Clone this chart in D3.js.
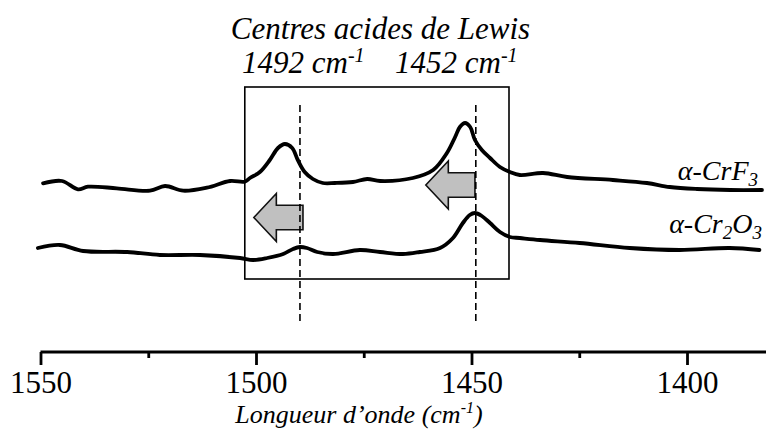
<!DOCTYPE html>
<html>
<head>
<meta charset="utf-8">
<script src="https://cdn.jsdelivr.net/npm/d3@7"></script>
</head>
<body style="margin:0">
<svg id="chart" width="766" height="430"></svg>
<script>
// ---------- DATA ----------
const wnCrF3 = [1549.4,1545.0,1541.3,1539.0,1532.3,1524.6,1521.1,1516.9,1511.4,1506.0,1502.6,1501.4,1499.1,1496.8,1494.9,1493.3,1491.6,1490.3,1488.7,1486.8,1484.5,1481.7,1477.5,1474.2,1471.2,1463.6,1458.9,1455.7,1453.8,1452.7,1451.5,1450.3,1449.2,1447.6,1445.7,1443.4,1441.1,1438.8,1433.4,1427.8,1417.2,1409.3,1404.0,1397.7,1390.0,1382.6];
const absCrF3 = [116.7,119,110.7,113.3,111.7,109.3,114,109.3,112.3,119,118.3,122,128,140,152,156,152,140,128,121,117,117,118,121,119,122,130,147,163,173,177,173,160,150,142,133,128,125,127,123,120,117,113,111,110,110];

const wnCr2O3 = [1550.6,1545.5,1540.1,1529.9,1522.3,1513.0,1503.7,1500.7,1497.4,1493.7,1491.4,1489.8,1488.2,1485.8,1482.1,1475.9,1471.2,1465.9,1462.0,1457.3,1454.3,1452.0,1450.4,1449.2,1447.6,1445.7,1443.4,1441.1,1438.8,1434.1,1424.9,1413.3,1401.7,1390.1,1383.2];
const absCr2O3 = [52,55,49,48,45,45,42,40,42,46,51,53,52,48,46,50,48,46,48,52,62,77,85,87,84,77,68,63,62,60,57,52,50,52,50];

const majorTicks = [1550, 1500, 1450, 1400];
const minorTicks = [1525, 1475, 1425];

const lewisBands = [1489.8, 1449.0];
const lewisLabels = ["1492", "1452"];
const boxWn = [1502.6, 1441.3];
const boxAbs = [213, 21];
const arrowTipWn = [1500.5, 1460.6];
const arrowTailWn = [1489.1, 1449.2];
const arrowAbs = [82.5, 115];

// ---------- SCALES ----------
const svg = d3.select("#chart");
const x = d3.scaleLinear().domain([1550, 1400]).range([40.5, 687]);
const y = d3.scaleLinear().domain([0, 200]).range([300, 100]);
const xEnd = x.invert(766);
const FONT = "'Times New Roman'";

// ---------- TITLE (first texts) ----------
svg.append("text").attr("x", 380.5).attr("y", 39).attr("text-anchor", "middle")
  .attr("font-family", FONT).attr("font-size", 31).attr("font-style", "italic").text("Centres acides de Lewis");
[242, 395].forEach((px, i) => {
  const t = svg.append("text").attr("x", px).attr("y", 73)
    .attr("font-family", FONT).attr("font-size", 31).attr("font-style", "italic");
  t.append("tspan").text(lewisLabels[i] + " cm");
  t.append("tspan").attr("dy", -11).attr("font-size", 20).text("-1");
});

// ---------- BOX ----------
svg.append("rect")
  .attr("x", x(boxWn[0])).attr("y", y(boxAbs[0]))
  .attr("width", x(boxWn[1]) - x(boxWn[0]))
  .attr("height", y(boxAbs[1]) - y(boxAbs[0]))
  .attr("fill", "none").attr("stroke", "#000").attr("stroke-width", 1.6);

// ---------- CURVES ----------
const line = d3.line().x(d => x(d[0])).y(d => y(d[1])).curve(d3.curveCatmullRom.alpha(0.5));
[[wnCrF3, absCrF3], [wnCr2O3, absCr2O3]].forEach(([w, a]) => {
  svg.append("path")
    .datum(w.map((v, i) => [v, a[i]]))
    .attr("d", line)
    .attr("fill", "none").attr("stroke", "#000")
    .attr("stroke-width", 3.8).attr("stroke-linejoin", "round").attr("stroke-linecap", "round");
});

// ---------- ARROWS ----------
arrowTipWn.forEach((tw, i) => {
  const tx = x(tw), ex = x(arrowTailWn[i]), cy = y(arrowAbs[i]);
  const hl = 22.5, hh = 24, bh = 12.3;
  const pts = [[tx, cy], [tx + hl, cy - hh], [tx + hl, cy - bh], [ex, cy - bh], [ex, cy + bh], [tx + hl, cy + bh], [tx + hl, cy + hh]];
  svg.append("path")
    .attr("d", "M" + pts.map(p => p.join(",")).join("L") + "Z")
    .attr("fill", "#c0c0c0").attr("stroke", "#111").attr("stroke-width", 1.6).attr("stroke-linejoin", "miter");
});

// ---------- DASHED LINES ----------
lewisBands.forEach(b => {
  svg.append("line")
    .attr("x1", x(b)).attr("x2", x(b)).attr("y1", 105).attr("y2", 322)
    .attr("stroke", "#000").attr("stroke-width", 1.6).attr("stroke-dasharray", "7,4");
});

// ---------- AXIS ----------
const axisY = 352;
const axisG = svg.append("g").attr("transform", `translate(0,${axisY})`);
axisG.append("line").attr("x1", x(1550)).attr("x2", x(xEnd)).attr("y1", 0).attr("y2", 0)
  .attr("stroke", "#000").attr("stroke-width", 2.8);
const major = d3.axisBottom(x).tickValues(majorTicks).tickSize(13).tickSizeOuter(0).tickFormat(d3.format("d"));
const gMaj = axisG.append("g").call(major);
gMaj.attr("font-family", FONT).attr("font-size", 31);
gMaj.select(".domain").remove();
gMaj.selectAll(".tick line").attr("stroke", "#000").attr("stroke-width", 2.8);
gMaj.selectAll(".tick text").attr("y", 41).attr("dy", 0).attr("fill", "#000")
  .attr("font-family", FONT).attr("font-size", 31);
const minor = d3.axisBottom(x).tickValues(minorTicks).tickSize(6).tickSizeOuter(0).tickFormat("");
const gMin = axisG.append("g").call(minor);
gMin.select(".domain").remove();
gMin.selectAll(".tick line").attr("stroke", "#000").attr("stroke-width", 2.8);

// axis title
const at = svg.append("text").attr("x", 359).attr("y", 423).attr("text-anchor", "middle")
  .attr("font-family", FONT).attr("font-size", 26).attr("font-style", "italic");
at.append("tspan").text("Longueur d’onde (cm");
at.append("tspan").attr("dy", -10).attr("font-size", 16).text("-1");
at.append("tspan").attr("dy", 10).text(")");

// ---------- SERIES LABELS ----------
const l1 = svg.append("text").attr("x", 758).attr("y", 180).attr("text-anchor", "end")
  .attr("font-family", FONT).attr("font-size", 28).attr("font-style", "italic");
l1.append("tspan").text("α-CrF");
l1.append("tspan").attr("dy", 6).attr("font-size", 19).text("3");

const l2 = svg.append("text").attr("x", 762).attr("y", 233).attr("text-anchor", "end")
  .attr("font-family", FONT).attr("font-size", 28).attr("font-style", "italic");
l2.append("tspan").text("α-Cr");
l2.append("tspan").attr("dy", 6).attr("font-size", 19).text("2");
l2.append("tspan").attr("dy", -6).text("O");
l2.append("tspan").attr("dy", 6).attr("font-size", 19).text("3");
</script>
</body>
</html>
